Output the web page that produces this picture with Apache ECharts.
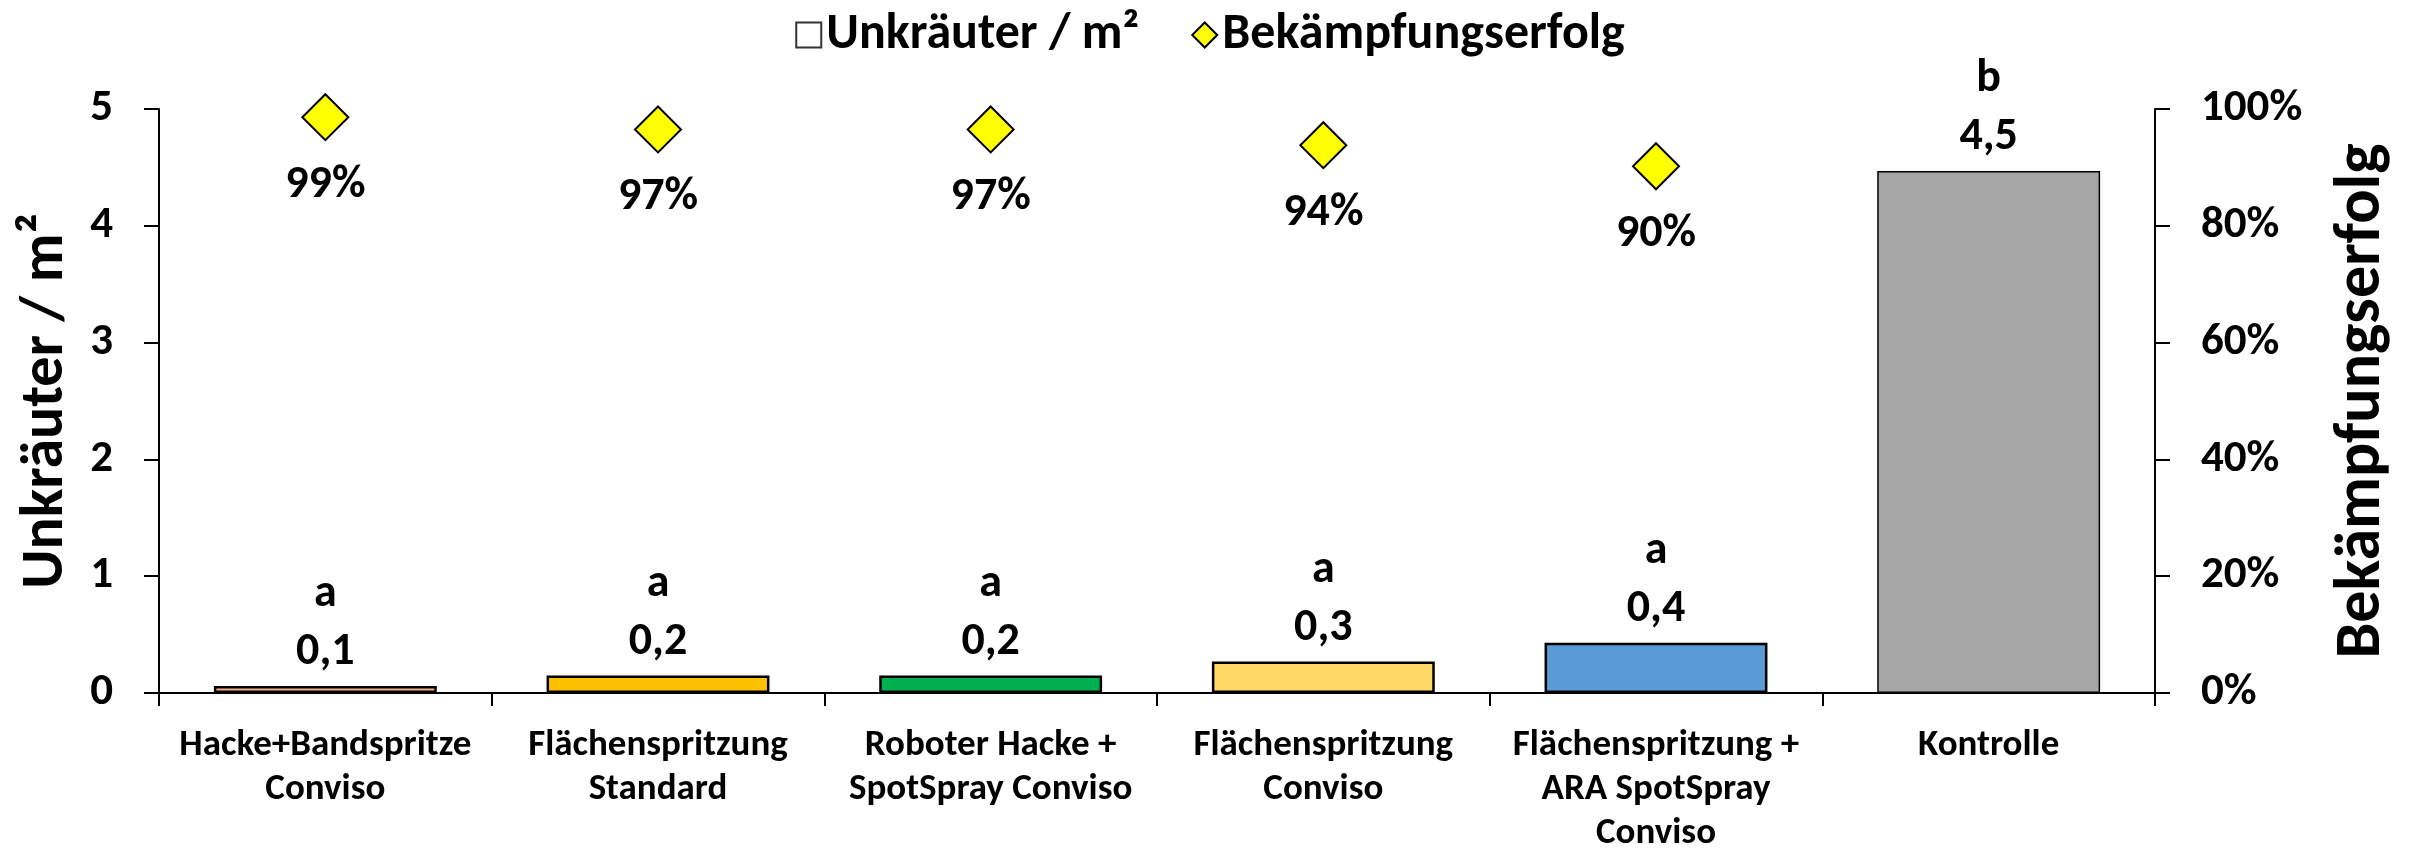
<!DOCTYPE html>
<html>
<head>
<meta charset="utf-8">
<script src="https://cdn.jsdelivr.net/npm/echarts@6/dist/echarts.min.js"></script>
<style>
  html, body { margin: 0; padding: 0; background: #fff; }
  #chart { width: 2420px; height: 856px; }
</style>
</head>
<body>
<div id="chart"></div>
<script>
// Daten
const categories = [
  'Hacke+Bandspritze\nConviso',
  'Flächenspritzung\nStandard',
  'Roboter Hacke +\nSpotSpray Conviso',
  'Flächenspritzung\nConviso',
  'Flächenspritzung +\nARA SpotSpray\nConviso',
  'Kontrolle'
]
const weeds = [0.06, 0.15, 0.15, 0.27, 0.43, 4.47]
const weedLabels = ['0,1', '0,2', '0,2', '0,3', '0,4', '4,5']
const letters = ['a', 'a', 'a', 'a', 'a', 'b']
const success = [98.6, 96.5, 96.5, 93.8, 90.2, null]
const barColors = ['#F4B183', '#FFC000', '#00B050', '#FFD966', '#5B9BD5', '#A6A6A6']

const font = "Carlito, Lato, 'Liberation Sans Narrow', sans-serif"
const black = '#000'

const chart = echarts.init(document.getElementById('chart'), null, { renderer: 'canvas' })

chart.setOption({
  animation: false,
  textStyle: { fontFamily: font, fontWeight: 'bold', color: black },
  legend: {
    top: 5,
    left: 'center',
    itemGap: 52,
    itemWidth: 25,
    itemHeight: 25,
    textStyle: { fontFamily: font, fontWeight: 'bold', fontSize: 50, color: black },
    data: [
      { name: 'Unkräuter / m²', icon: 'rect', itemStyle: { color: '#fff', borderColor: '#333', borderWidth: 2 } },
      { name: 'Bekämpfungserfolg', icon: 'diamond' }
    ]
  },
  grid: { left: 159, right: 265, top: 109, bottom: 153, containLabel: false },
  xAxis: {
    type: 'category',
    data: categories,
    axisLine: { lineStyle: { color: black, width: 2 } },
    axisTick: { show: true, length: 13, inside: false, lineStyle: { color: black, width: 2 } },
    axisLabel: {
      interval: 0, margin: 31, fontSize: 37, lineHeight: 44,
      color: black, fontWeight: 'bold', fontFamily: font
    }
  },
  yAxis: [
    {
      type: 'value', min: 0, max: 5, interval: 1, position: 'left',
      name: 'Unkräuter / m²', nameLocation: 'middle', nameGap: 82,
      nameTextStyle: { fontSize: 60, fontWeight: 'bold', color: black, fontFamily: font },
      splitLine: { show: false },
      axisLine: { show: true, lineStyle: { color: black, width: 2 } },
      axisTick: { show: true, length: 15, lineStyle: { color: black, width: 2 } },
      axisLabel: { margin: 46, fontSize: 45, color: black, fontWeight: 'bold', fontFamily: font }
    },
    {
      type: 'value', min: 0, max: 100, interval: 20, position: 'right',
      name: 'Bekämpfungserfolg', nameLocation: 'middle', nameGap: 176,
      nameTextStyle: { fontSize: 64, fontWeight: 'bold', color: black, fontFamily: font },
      splitLine: { show: false },
      axisLine: { show: true, lineStyle: { color: black, width: 2 } },
      axisTick: { show: true, length: 15, lineStyle: { color: black, width: 2 } },
      axisLabel: { margin: 46, fontSize: 45, color: black, fontWeight: 'bold', fontFamily: font, formatter: '{value}%' }
    }
  ],
  series: [
    {
      name: 'Unkräuter / m²',
      type: 'bar',
      yAxisIndex: 0,
      barCategoryGap: '33%',
      itemStyle: { color: '#fff', borderColor: black, borderWidth: 2 },
      data: weeds.map((v, i) => ({ value: v, itemStyle: { color: barColors[i], borderColor: black, borderWidth: i === 5 ? 1.5 : 2.5 } })),
      label: {
        show: true,
        position: 'top',
        distance: 4,
        formatter: p => '{l|' + letters[p.dataIndex] + '}\n{v|' + weedLabels[p.dataIndex] + '}',
        rich: {
          l: { fontSize: 46, lineHeight: 58, fontWeight: 'bold', color: black, fontFamily: font },
          v: { fontSize: 46, lineHeight: 58, fontWeight: 'bold', color: black, fontFamily: font }
        }
      },
      z: 2
    },
    {
      name: 'Bekämpfungserfolg',
      type: 'scatter',
      yAxisIndex: 1,
      symbol: 'diamond',
      symbolSize: 46,
      itemStyle: { color: '#FFFF00', borderColor: black, borderWidth: 2, opacity: 1 },
      data: success,
      label: {
        show: true,
        position: 'bottom',
        distance: 21,
        fontSize: 46,
        fontWeight: 'bold',
        color: black,
        textBorderWidth: 0,
        fontFamily: font,
        formatter: p => Math.round(p.value) + '%'
      },
      z: 3
    }
  ]
})
</script>
</body>
</html>
